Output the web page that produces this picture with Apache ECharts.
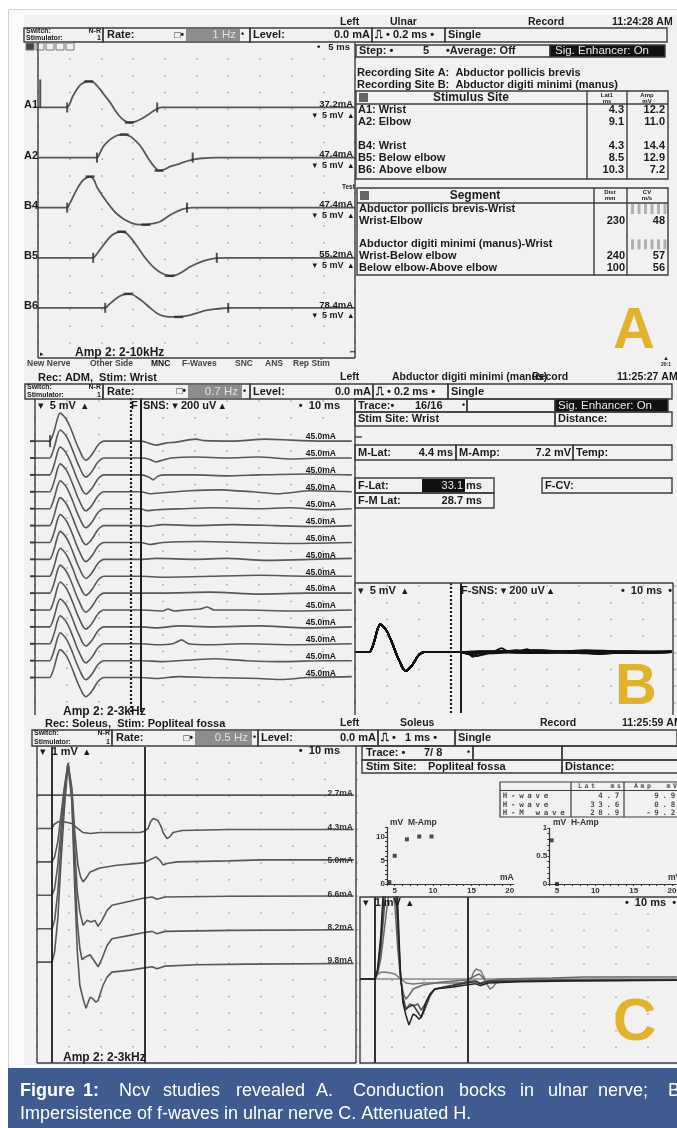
<!DOCTYPE html>
<html>
<head>
<meta charset="utf-8">
<title>NCV studies</title>
<script src="https://cdn.jsdelivr.net/npm/echarts@6.0.0/dist/echarts.min.js"></script>
<style>
html,body{margin:0;padding:0;background:#fff;}
#chart{width:677px;height:1128px;}
</style>
</head>
<body>
<div id="chart"></div>
<script>
// ===================== DATA =====================
// Panel A – ulnar motor conduction; points are [time ms, amplitude mV]
const aTraceLabels = ['A1', 'A2', 'B4', 'B5', 'B6'];
const aStimLabels = ['37.2mA', '47.4mA', '47.4mA', '55.2mA', '78.4mA'];
const aTraceA1 = [[0,0],[4.6,0],[5.0,1],[5.4,3],[6,5],[6.6,6.6],[7.3,7.5],[8,7.8],[8.7,7.6],[9.8,5.4],[10.6,3.4],[11.4,1.5],[12.1,-0.7],[12.9,-2.7],[13.6,-3.9],[14.4,-4.5],[15.2,-4.3],[16.1,-3.6],[17,-2.6],[18.1,-1.2],[18.8,-0.4],[19.6,0],[50,0]];
const aTraceA2 = [[0,0],[9.3,0],[9.8,1.5],[10.3,3.3],[11,4.8],[11.6,5.7],[12.6,6.7],[13.6,6.9],[14.6,6.3],[15.4,5],[16.1,3.6],[16.8,1.6],[17.4,-0.3],[18.2,-2.4],[19.1,-3.9],[20,-3.5],[20.8,-2.7],[22.4,-1.8],[23.4,-1.1],[24.4,-0.6],[26,-0.2],[28,0],[50,0]];
const aTraceB4 = [[0,0],[4.6,0],[5,1.2],[5.6,3.5],[6.2,5.7],[6.9,7.8],[7.5,8.8],[8.2,9.3],[8.8,8.4],[9.3,6.2],[10.3,3.2],[11.4,0.4],[12.3,-1.6],[13.5,-3.4],[14.8,-4.6],[16,-5.1],[17,-5.1],[18,-4.8],[19.2,-4.2],[20.2,-3],[21.2,-1.8],[22.6,-0.6],[23.5,-0.1],[24.5,0],[50,0]];
const aTraceB5 = [[0,0],[8.7,0],[9.3,1.2],[10,3],[10.8,5],[11.7,6.8],[12.5,7.6],[13.2,7.8],[14,7.3],[14.8,5.6],[15.8,3],[16.9,0],[18,-2.4],[19,-4],[20,-5],[20.8,-5.4],[21.7,-5.2],[22.6,-4.4],[24,-2.7],[25.3,-1.5],[26.7,-0.6],[28.2,-0.1],[29.5,0],[50,0]];
const aTraceB6 = [[0,0],[10.6,0],[11.2,1],[12,2.3],[12.8,3.4],[13.5,4],[14.2,4.2],[14.9,4],[15.6,3.2],[16.6,1.8],[17.7,0],[18.7,-1.5],[19.7,-2.4],[20.8,-2.7],[22.2,-2.7],[23.4,-2.4],[24.6,-1.8],[26.2,-0.9],[27.8,-0.4],[29.2,-0.1],[30.6,0],[50,0]];
const aOnsetMs = [4.6, 9.3, 4.6, 8.7, 10.6];
const aPeakMs = [8.0, 13.6, 8.2, 13.2, 14.2];
const aTroughMs = [14.4, 19.1, 17.0, 20.8, 22.2];
const aEndMs = [18.8, 24.4, 23.5, 28.2, 30.0];
// Panel A tables
const siteNames = ['A1: Wrist', 'A2: Elbow', '', 'B4: Wrist', 'B5: Below elbow', 'B6: Above elbow'];
const siteLat = ['4.3', '9.1', '', '4.3', '8.5', '10.3'];
const siteAmp = ['12.2', '11.0', '', '14.4', '12.9', '7.2'];
const segNames = ['Abductor pollicis brevis-Wrist', 'Wrist-Elbow', '', 'Abductor digiti minimi (manus)-Wrist', 'Wrist-Below elbow', 'Below elbow-Above elbow'];
const segDist = ['', '230', '', '', '240', '100'];
const segCV = ['', '48', '', '', '57', '56'];

// Panel B – F-wave study; M response in mV, late window in uV
const bCmapMv = [[0,0],[4.6,0],[5.4,0.7],[6.25,2.0],[7.0,3.4],[7.8,4.24],[8.8,3.9],[9.9,3.2],[11,2.1],[12,0.9],[13,-0.4],[14.1,-1.6],[15,-2.5],[15.9,-2.9],[16.8,-2.6],[17.7,-2.1],[18.5,-1.5],[19.3,-0.85],[20.3,-0.3],[21.5,0],[30,0]];
const bFwaveUv = [
  [[30,0],[33.1,0],[35.5,-12],[37.8,-24],[40.9,-12],[44,-6],[50.3,12],[53,3],[62,0],[72,12],[80,6],[90,0],[99,0]],
  [[30,0],[33.1,0],[35.5,-6],[37.8,-24],[40,-12],[42.5,0],[50,6],[60,0],[70,6],[80,-6],[90,0],[99,0]],
  [[30,0],[33.1,0],[35.5,-12],[36.9,-30],[38.5,-6],[41,0],[50,0],[60,-6],[70,0],[85,6],[99,0]],
  [[30,0],[33.1,0],[36,-12],[40,-6],[48,6],[58,12],[68,0],[76,-12],[86,6],[99,0]],
  [[30,0],[33.1,0],[35,-12],[38,-6],[46,0],[55,6],[70,0],[80,6],[90,-6],[99,0]],
  [[30,0],[33.1,0],[35,-6],[40,6],[50,0],[62,6],[75,0],[88,-6],[99,0]],
  [[30,0],[33.1,0],[36,-12],[40,0],[52,6],[66,0],[80,-6],[99,0]],
  [[30,0],[33.1,0],[38,6],[50,0],[60,6],[72,-6],[86,0],[99,6]],
  [[30,0],[33.1,0],[40,-6],[55,0],[70,6],[85,0],[99,0]],
  [[30,0],[33.1,0],[40,0],[55,6],[70,-6],[85,0],[99,0]],
  [[30,0],[33.1,0],[40,-6],[41.5,6],[43.5,-6],[47,0],[51.5,6],[53.8,18],[56,0],[65,0],[80,-6],[99,0]],
  [[30,0],[33.1,0],[38,-6],[45,6],[55,0],[70,6],[85,-6],[99,0]],
  [[30,0],[33.1,0],[38,-6],[43,0],[45.8,24],[48,0],[55,-6],[65,0],[80,-6],[99,0]],
  [[30,0],[33.1,0],[40,-6],[50,6],[56,12],[66,0],[78,-6],[90,0],[99,0]],
  [[30,0],[33.1,0],[38,-6],[45,6],[55,0],[70,-6],[77,-12],[85,0],[99,6]]
];
const bStimLabels = ['45.0mA','45.0mA','45.0mA','45.0mA','45.0mA','45.0mA','45.0mA','45.0mA','45.0mA','45.0mA','45.0mA','45.0mA','45.0mA','45.0mA','45.0mA'];
const bOnsetMs = 4.7;
const bWindowMs = 30;
const bFLatMs = 33.1;

// Panel C – H-reflex, soleus (time ms, amplitude mV)
const cStimLabels = ['2.7mA', '4.3mA', '5.0mA', '6.6mA', '8.2mA', '9.8mA'];
const cTrace27 = [[0,0],[30,0],[60,0],[99,0]];
const cTrace43 = [[0,0],[4.7,0],[5.3,0.12],[6.5,0.2],[7.8,0.21],[9.5,0.18],[10.9,0.15],[12.5,0.02],[14.4,-0.12],[16.6,-0.15],[19.7,-0.12],[32.2,-0.12],[33.6,-0.08],[34.7,0],[35.5,0.2],[36.3,0.3],[37.8,0.24],[38.8,0.05],[39.4,-0.12],[40.6,-0.3],[41.5,-0.25],[42.5,-0.12],[45.3,-0.06],[60,-0.03],[99,-0.03]];
const cTrace50 = [[0,0],[4.7,0],[5.5,0.15],[6.5,0.6],[7.5,1.4],[8.5,2.2],[9.7,2.96],[10.3,2.96],[10.9,2.2],[11.8,0.9],[12.8,-0.1],[13.6,-0.45],[14.4,-0.6],[15.6,-0.45],[16.6,-0.3],[19.7,-0.18],[25,-0.1],[33.1,-0.03],[35,0.05],[37.2,0.15],[38.4,0.05],[39.4,-0.09],[40.6,-0.05],[43.7,0],[60,0.03],[70,0.06],[99,0.06]];
const cTrace66 = [[0,0],[4.7,0],[5.5,0.2],[6.5,0.9],[7.5,2],[8.5,3.1],[9.7,3.96],[10.3,3.96],[10.9,3.1],[11.8,1.4],[12.6,0.1],[13.4,-0.5],[14.4,-0.9],[15.6,-0.75],[16.9,-0.8],[18.1,-0.75],[19.1,-0.93],[20.3,-0.75],[21.9,-0.45],[23.4,-0.3],[29,-0.18],[33.1,-0.09],[36,-0.05],[37.5,-0.12],[40,-0.05],[60,-0.03],[99,-0.02]];
const cTrace82 = [[0,0],[4.7,0],[5.5,0.25],[6.5,1.1],[7.5,2.5],[8.5,3.8],[9.7,4.96],[10.3,4.96],[10.9,3.9],[11.8,1.8],[12.6,0.2],[13.4,-0.6],[14.1,-0.93],[15,-0.85],[16.6,-0.78],[17.8,-0.95],[19.1,-1.14],[20.3,-0.9],[21.9,-0.5],[23.4,-0.3],[29,-0.2],[33.1,-0.12],[36,-0.08],[37.5,-0.15],[40,-0.08],[60,-0.05],[99,-0.03]];
const cTrace98 = [[0,0],[4.7,0],[5.5,0.3],[6.5,1.3],[7.5,3],[8.5,4.5],[9.7,5.96],[10.3,5.96],[10.9,4.8],[11.8,2.2],[12.6,0.3],[13.4,-0.7],[14.4,-1.1],[15.3,-1.38],[16.6,-1.05],[17.5,-1.1],[18.4,-1.2],[19.1,-1.15],[20.6,-0.7],[21.9,-0.45],[23.4,-0.3],[29.1,-0.24],[33.1,-0.18],[36,-0.14],[37.5,-0.2],[40,-0.12],[50,-0.08],[66,-0.06],[99,-0.04]];
const cMLatMs = 4.7;
const cHLatMs = 33.6;
const cTableNames = ['H-wave', 'H-wave', 'H-M wave'];
const cTableLat = ['4.7', '33.6', '28.9'];
const cTableAmp = ['9.9', '0.8', '-9.2'];
const mAmpPoints = [[4.3,0.4],[5.0,6.0],[6.6,9.5],[8.2,10.1],[9.8,10.1]];
const hAmpPoints = [[4.3,0.78],[5.0,0]];
const ampXLabels = [5, 10, 15, 20];
const mAmpYLabels = [0, 5, 10];
const hAmpYLabels = [0, 0.5, 1];

// Caption
const captionWords1 = ['Figure', '1:', 'Ncv', 'studies', 'revealed', 'A.', 'Conduction', 'bocks', 'in', 'ulnar', 'nerve;', 'B'];
const captionLine2 = 'Impersistence of f-waves in ulnar nerve C. Attenuated H.';

// ===================== BUILD =====================
const FF = '"Liberation Sans", Arial, Helvetica, "DejaVu Sans", sans-serif';
const MONO = '"DejaVu Sans Mono", "Liberation Mono", monospace';
const INK = '#1b1b1b';
const LINE = '#3c3c3c';
const G = [];
function T(x, y, text, o) {
  o = o || {};
  G.push({type: 'text', x: x, y: y, z: o.z || 30, silent: true,
    style: {text: String(text), fill: o.c || INK, fontSize: o.s || 11, fontWeight: o.w || 'bold',
      fontFamily: o.f || FF, align: o.a || 'left', verticalAlign: 'middle',
      textAlign: o.a || 'left', textVerticalAlign: 'middle'}});
}
function box(x, y, w, h, o) {
  o = o || {};
  G.push({type: 'rect', z: o.z || 25, silent: true, shape: {x: x, y: y, width: w, height: h},
    style: {fill: o.fill || 'none', stroke: o.stroke || LINE, lineWidth: o.lw == null ? 1.4 : o.lw}});
}
function fillRect(x, y, w, h, color, z) {
  G.push({type: 'rect', z: z || 26, silent: true, shape: {x: x, y: y, width: w, height: h}, style: {fill: color}});
}
function Ln(x1, y1, x2, y2, o) {
  o = o || {};
  G.push({type: 'line', z: o.z || 25, silent: true, shape: {x1: x1, y1: y1, x2: x2, y2: y2},
    style: {stroke: o.c || LINE, lineWidth: o.lw || 1.4, lineDash: o.dash || null}});
}
function spaced(x, y, str, pitch, o) {
  for (let k = 0; k < str.length; k++) {
    if (str[k] !== ' ') T(x + k * pitch, y, str[k], Object.assign({a: 'center', f: MONO, s: 7.5, c: '#4d4d4d'}, o || {}));
  }
}
function spacedRight(xr, y, str, pitch, o) { spaced(xr - (str.length - 1) * pitch, y, str, pitch, o); }
function valueAt(tr, t) {
  for (let k = 1; k < tr.length; k++) {
    if (tr[k][0] >= t) { const p0 = tr[k - 1], p1 = tr[k]; return p0[1] + (p1[1] - p0[1]) * (t - p0[0]) / (p1[0] - p0[0]); }
  }
  return 0;
}
const shift = (arr, off) => arr.map(p => [p[0], p[1] + off]);

// backgrounds
G.push({type: 'rect', z: -20, silent: true, shape: {x: 8.5, y: 9.5, width: 690, height: 1060}, style: {fill: '#fbfbfb', stroke: '#d2d2d2', lineWidth: 1}});
G.push({type: 'rect', z: -19, silent: true, shape: {x: 24, y: 15, width: 653, height: 1050}, style: {fill: '#f1f1f1'}});

const grids = [], xAxes = [], yAxes = [], series = [];
function addTraceGrid(L, interval, dashOffset) {
  const gi = grids.length;
  grids.push({left: L.left, top: L.top, width: L.w, height: L.h, containLabel: false, outerBoundsMode: 'none', show: false});
  xAxes.push({gridIndex: gi, type: 'value', min: 0, max: L.xMax, interval: interval,
    axisLine: {show: false}, axisTick: {show: false}, axisLabel: {show: false},
    splitLine: {show: true, lineStyle: {color: '#a3a3a3', width: 1.5, type: [1.5, 15.2], dashOffset: dashOffset}}});
  yAxes.push({gridIndex: gi, type: 'value', min: 0, max: L.yMax, show: false, splitLine: {show: false}});
  return gi;
}
function lineSeries(gi, data, color, width, smooth, extra) {
  return Object.assign({type: 'line', xAxisIndex: gi, yAxisIndex: gi, data: data, showSymbol: false, symbol: 'none',
    silent: true, animation: false, smooth: smooth, clip: true, lineStyle: {color: color, width: width}, z: 3}, extra || {});
}
function vMarks(vals, styles) {
  return {silent: true, symbol: ['none', 'none'], label: {show: false}, animation: false,
    lineStyle: {color: '#1e1e1e', width: 1.8, type: 'solid'},
    data: vals.map((v, i) => ({xAxis: v, lineStyle: styles[i]}))};
}

// ---------- Panel A ----------
const GA = {left: 38, top: 44, w: 317, h: 314, xMax: 50, yMax: 94};
const gA = addTraceGrid(GA, 5, 2.4);
const aPx = GA.h / GA.yMax;
const aTraces = [aTraceA1, aTraceA2, aTraceB4, aTraceB5, aTraceB6];
const aBase = aTraces.map((_, i) => 75 - 15 * i);
const aBasePx = aBase.map(b => GA.top + GA.h - b * aPx);
aTraces.forEach((tr, i) => series.push(lineSeries(gA, shift(tr, aBase[i]), '#575757', 1.8, 0.25)));
const aMarkData = [];
aTraces.forEach((tr, i) => {
  aMarkData.push({value: [aOnsetMs[i], aBase[i]], symbolSize: [2, 10]});
  aMarkData.push({value: [aEndMs[i], aBase[i]], symbolSize: [2, 10]});
  aMarkData.push({value: [aPeakMs[i], aBase[i] + valueAt(tr, aPeakMs[i])], symbolSize: [9, 2.5]});
  aMarkData.push({value: [aTroughMs[i], aBase[i] + valueAt(tr, aTroughMs[i])], symbolSize: [9, 2.5]});
});
aMarkData.push({value: [0.35, aBase[0] + 4.2], symbolSize: [2, 28]});
series.push({type: 'scatter', xAxisIndex: gA, yAxisIndex: gA, data: aMarkData, symbol: 'rect', silent: true, animation: false, itemStyle: {color: '#2a2a2a'}, z: 4});

// ---------- Panel B ----------
const GBL = {left: 35, top: 398, w: 320, h: 314, xMax: 100, yMax: 47.6};
const GBR = {left: 355, top: 583, w: 320, h: 130, xMax: 100, yMax: 19.7};
const gBL = addTraceGrid(GBL, 10, 14.4);
const gBR = addTraceGrid(GBR, 10, 14.4);
const bPx = GBL.h / GBL.yMax;
const bBase = bFwaveUv.map((_, i) => 41.06 - 2.56 * i);
const bBasePx = bBase.map(b => GBL.top + GBL.h - b * bPx);
const bTrace = i => bCmapMv.concat(bFwaveUv[i].map(p => [p[0], p[1] * 0.025]));  // 200 uV/div vs 5 mV/div
const bMarkStyles = [{type: [2, 2], width: 2.2}, {type: 'solid', width: 2}];
bFwaveUv.forEach((_, i) => {
  series.push(lineSeries(gBL, shift(bTrace(i), bBase[i]), '#575757', 1.6, 0.2,
    i === 0 ? {markLine: vMarks([bWindowMs, bFLatMs], bMarkStyles)} : null));
});
series.push({type: 'scatter', xAxisIndex: gBL, yAxisIndex: gBL, data: [[bOnsetMs, bBase[0]]], symbol: 'rect', symbolSize: [2, 12], silent: true, itemStyle: {color: '#2a2a2a'}, z: 4});
bFwaveUv.forEach((_, i) => {
  series.push(lineSeries(gBR, shift(bTrace(i), 9.24), '#111', 1.8, 0.2,
    i === 0 ? {markLine: vMarks([bWindowMs, bFLatMs], bMarkStyles)} : null));
});

// ---------- Panel C ----------
const GCL = {left: 37, top: 747, w: 320, h: 316, xMax: 100, yMax: 9.46};
const GCR = {left: 360, top: 897, w: 320, h: 166, xMax: 100, yMax: 4.97};
const gCL = addTraceGrid(GCL, 10, 1.7);
const gCR = addTraceGrid(GCR, 10, 0.7);
const cPx = GCL.h / GCL.yMax;
const cTraces = [cTrace27, cTrace43, cTrace50, cTrace66, cTrace82, cTrace98];
const cBase = cTraces.map((_, i) => 8.02 - 1.0 * i);
const cBasePx = cBase.map(b => GCL.top + GCL.h - b * cPx);
const cMarkStyles = [{type: 'solid', width: 1.8}, {type: 'solid', width: 1.8}];
cTraces.forEach((tr, i) => {
  series.push(lineSeries(gCL, shift(tr, cBase[i]), '#575757', 1.6, false,
    i === 0 ? {markLine: vMarks([cMLatMs, cHLatMs], cMarkStyles)} : null));
});
const cRColors = ['#8a8a8a', '#7a7a7a', '#6a6a6a', '#555', '#3a3a3a', '#222'];
cTraces.forEach((tr, i) => {
  series.push(lineSeries(gCR, shift(tr, 2.515), cRColors[i], 1.5, false,
    i === 0 ? {markLine: vMarks([cMLatMs, cHLatMs], cMarkStyles)} : null));
});

// amplitude plots
function addAmpGrid(left, top, w, h, yMax, yLabels, yTicks, points) {
  const gi = grids.length;
  grids.push({left: left, top: top, width: w, height: h, containLabel: false, outerBoundsMode: 'none', show: false});
  const xt = []; for (let v = 4; v <= 20; v++) xt.push(v);
  xAxes.push({gridIndex: gi, type: 'value', min: 4, max: 20.5,
    axisLine: {show: true, lineStyle: {color: '#333', width: 1.2}},
    axisTick: {show: true, customValues: xt, length: 2, lineStyle: {color: '#333', width: 1}},
    axisLabel: {show: true, customValues: ampXLabels, fontSize: 8, fontWeight: 'bold', color: '#333', margin: 3, fontFamily: FF},
    splitLine: {show: false}});
  yAxes.push({gridIndex: gi, type: 'value', min: 0, max: yMax,
    axisLine: {show: true, lineStyle: {color: '#333', width: 1.2}},
    axisTick: {show: true, customValues: yTicks, length: 2, lineStyle: {color: '#333', width: 1}},
    axisLabel: {show: true, customValues: yLabels, fontSize: 8, fontWeight: 'bold', color: '#333', margin: 2, fontFamily: FF},
    splitLine: {show: false}});
  series.push({type: 'scatter', xAxisIndex: gi, yAxisIndex: gi, data: points, symbol: 'rect', symbolSize: 4,
    silent: true, animation: false, itemStyle: {color: '#222'}, z: 4});
}
const mTicks = []; for (let v = 0; v <= 12; v++) mTicks.push(v);
const hTicks = []; for (let v = 0; v <= 10; v++) hTicks.push(v / 10);
addAmpGrid(387, 827.6, 126.6, 56.4, 12, mAmpYLabels, mTicks, mAmpPoints);
addAmpGrid(549.3, 828, 126.6, 56, 1, hAmpYLabels, hTicks, hAmpPoints);

// ---------- header rows ----------
function headerRow(h) {
  const y = h.y, hh = h.h, cy = y + hh / 2;
  box(h.sw0, y, h.sw1 - h.sw0, hh);
  box(h.sw1, y, h.lev0 - h.sw1, hh);
  box(h.lev0, y, h.lev1 - h.lev0, hh);
  box(h.lev1, y, h.dur1 - h.lev1, hh);
  box(h.dur1, y, h.end - h.dur1, hh);
  fillRect(h.hl0, y + 1, h.hl1 - h.hl0, hh - 2, '#8d8d8d');
  T(h.sw0 + 2, y + 3.5, 'Switch:', {s: 7});
  T(h.sw0 + 2, y + hh - 3.5, 'Stimulator:', {s: 7});
  T(h.sw1 - 2, y + 3.5, 'N-R', {s: 7, a: 'right'});
  T(h.sw1 - 2, y + hh - 3.5, '1', {s: 7, a: 'right'});
  T(h.sw1 + 4, cy, 'Rate:');
  T(h.hl0 - 2, cy, '□•', {a: 'right', s: 10});
  T(h.hl1 - 4, cy, h.rate, {a: 'right', w: 'normal', c: '#e2e2e2', s: 11.5});
  T(h.hl1 + 1, cy, '•', {s: 9});
  T(h.lev0 + 3, cy, 'Level:');
  T(h.lev1 - 2, cy, '0.0 mA', {a: 'right'});
  T(h.lev1 + 3, cy, h.dur);
  T(h.dur1 + 3, cy, 'Single');
}
function titleRow(y, site, siteX, recX, time, timeX) {
  T(340, y, 'Left', {s: 10.5});
  T(siteX, y, site, {s: 10.5});
  T(recX, y, 'Record', {s: 10.5});
  T(timeX, y, time, {s: 10.5});
}

// ---------- Panel A decorations ----------
titleRow(22, 'Ulnar', 390, 528, '11:24:28 AM', 612);
headerRow({y: 28, h: 14, sw0: 24, sw1: 103, hl0: 186, hl1: 240, rate: '1 Hz', lev0: 250, lev1: 372, dur: '⎍ • 0.2 ms •', dur1: 445, end: 667});
for (let k = 0; k < 5; k++) box(26 + k * 10, 43, 8, 7, {lw: 1, fill: k === 0 ? '#444' : 'none', stroke: '#777'});
Ln(38, 43, 38, 358); Ln(38, 358, 355, 358); Ln(355, 43, 355, 358);
T(350, 47, '•   5 ms', {a: 'right', s: 9.5});
aTraceLabels.forEach((lab, i) => {
  T(24, aBasePx[i] - 2, lab, {s: 11});
  T(353, aBasePx[i] - 3, aStimLabels[i], {a: 'right', s: 9.5});
  T(353, aBasePx[i] + 8, '▾  5 mV  ▴', {a: 'right', s: 9});
});
T(342, 187, 'Test', {s: 6.5});
T(40, 354, '▸', {s: 7});
T(75, 353, 'Amp 2: 2-10kHz', {s: 12});
[['New Nerve', 27], ['Other Side', 90], ['MNC', 151], ['F-Waves', 182], ['SNC', 235], ['ANS', 265], ['Rep Stim', 293]].forEach(m =>
  T(m[1], 364, m[0], {s: 8.5, c: m[0] === 'MNC' ? '#111' : '#444'}));
T(350, 352, 'ꟷ', {s: 6});
box(356, 45, 194, 12);
T(359, 51, 'Step: •', {});
T(423, 51, '5', {});
T(446, 51, '•Average: Off', {});
box(550, 45, 115, 12, {fill: '#111'});
T(555, 51, 'Sig. Enhancer: On', {w: 'normal', c: '#eaeaea', s: 11.5});
T(357, 73, 'Recording Site A:  Abductor pollicis brevis', {s: 11});
T(357, 85, 'Recording Site B:  Abductor digiti minimi (manus)', {s: 11});
// stimulus table
box(356, 91, 312, 88); Ln(356, 104, 668, 104); Ln(587, 91, 587, 179); Ln(627, 91, 627, 179);
fillRect(359, 93, 9, 9, '#666');
T(471, 98, 'Stimulus Site', {a: 'center', s: 12});
T(607, 95, 'Lat1', {a: 'center', s: 6}); T(607, 101, 'ms', {a: 'center', s: 6});
T(647, 95, 'Amp', {a: 'center', s: 6}); T(647, 101, 'mV', {a: 'center', s: 6});
siteNames.forEach((n, i) => {
  const y = 110 + 12 * i;
  if (n) T(358, y, n, {s: 11});
  if (siteLat[i]) T(624, y, siteLat[i], {a: 'right', s: 11});
  if (siteAmp[i]) T(665, y, siteAmp[i], {a: 'right', s: 11});
});
// segment table
box(357, 188, 311, 87); Ln(357, 203, 668, 203); Ln(594, 188, 594, 275); Ln(627, 188, 627, 275);
fillRect(360, 191, 9, 9, '#666');
T(475, 196, 'Segment', {a: 'center', s: 12});
T(610, 192, 'Dist', {a: 'center', s: 6}); T(610, 198, 'mm', {a: 'center', s: 6});
T(647, 192, 'CV', {a: 'center', s: 6}); T(647, 198, 'm/s', {a: 'center', s: 6});
segNames.forEach((n, i) => {
  const y = 209 + 11.8 * i;
  if (n) T(359, y, n, {s: 11});
  if (segDist[i]) T(625, y, segDist[i], {a: 'right', s: 11});
  if (segCV[i]) T(665, y, segCV[i], {a: 'right', s: 11});
  if (i === 0 || i === 3) for (let k = 0; k < 6; k++) fillRect(631 + k * 6.5, y - 5, 3, 10, '#b0b0b0');
});
T(613, 332, 'A', {s: 58, c: '#E2B22C'});
T(666, 358, '▲', {s: 6, a: 'center'}); T(666, 365, '20:1', {s: 5, a: 'center'});

// ---------- Panel B decorations ----------
T(38, 378, 'Rec: ADM,  Stim: Wrist', {s: 11});
titleRow(377, 'Abductor digiti minimi (manus)', 392, 532, '11:25:27 AM', 617);
headerRow({y: 384, h: 15, sw0: 25, sw1: 103, hl0: 188, hl1: 242, rate: '0.7 Hz', lev0: 250, lev1: 373, dur: '⎍ • 0.2 ms •', dur1: 448, end: 672});
Ln(35, 399, 35, 715); Ln(355, 399, 355, 715);
Ln(355, 583, 673, 583); Ln(673, 583, 673, 715);
T(38, 406, '▾  5 mV  ▴', {s: 11});
T(131, 406, 'F', {s: 11});
T(143, 406, 'SNS: ▾ 200 uV ▴', {s: 11});
T(340, 406, '•  10 ms', {a: 'right', s: 11});
bStimLabels.forEach((lab, i) => {
  T(336, bBasePx[i] - 4, lab, {a: 'right', s: 8.5});
  Ln(30, bBasePx[i], 35, bBasePx[i], {lw: 2});
});
T(63, 712, 'Amp 2: 2-3kHz', {s: 12});
box(355, 399, 112, 13); box(467, 399, 88, 13); box(555, 399, 113, 13, {fill: '#111'});
T(358, 405.5, 'Trace:•', {}); T(415, 405.5, '16/16', {}); T(462, 405.5, '•', {s: 9});
T(558, 405.5, 'Sig. Enhancer: On', {w: 'normal', c: '#eaeaea', s: 11.5});
box(355, 412, 200, 14); box(555, 412, 117, 14);
T(358, 419, 'Stim Site: Wrist', {}); T(558, 419, 'Distance:', {});
Ln(355, 437, 362, 437);
box(355, 445, 101, 15); box(456, 445, 117, 15); box(573, 445, 99, 15);
T(358, 452.5, 'M-Lat:', {}); T(453, 452.5, '4.4 ms', {a: 'right'});
T(459, 452.5, 'M-Amp:', {}); T(571, 452.5, '7.2 mV', {a: 'right'});
T(576, 452.5, 'Temp:', {});
box(355, 478, 139, 15); fillRect(422, 479, 43, 13, '#111');
T(358, 485.5, 'F-Lat:', {}); T(463, 485.5, '33.1', {a: 'right', w: 'normal', c: '#eaeaea'}); T(466, 485.5, 'ms', {});
box(355, 493, 139, 15);
T(358, 500.5, 'F-M Lat:', {}); T(463, 500.5, '28.7', {a: 'right'}); T(466, 500.5, 'ms', {});
box(542, 478, 130, 15); T(545, 485.5, 'F-CV:', {});
T(358, 591, '▾  5 mV  ▴', {s: 11});
T(461, 591, 'F-SNS: ▾ 200 uV ▴', {s: 11});
T(672, 591, '•  10 ms  •', {a: 'right', s: 11});
T(615, 688, 'B', {s: 58, c: '#E2B22C'});

// ---------- Panel C decorations ----------
T(45, 724, 'Rec: Soleus,  Stim: Popliteal fossa', {s: 11});
titleRow(723, 'Soleus', 400, 540, '11:25:59 AM', 622);
headerRow({y: 730, h: 16, sw0: 32, sw1: 112, hl0: 195, hl1: 252, rate: '0.5 Hz', lev0: 258, lev1: 378, dur: '⎍ •   1 ms •', dur1: 455, end: 677});
Ln(37, 746, 37, 1063); Ln(356, 746, 356, 1063); Ln(37, 1063, 356, 1063);
T(40, 752, '▾  1 mV  ▴', {s: 11});
T(340, 751, '•  10 ms', {a: 'right', s: 11});
cStimLabels.forEach((lab, i) => T(353, cBasePx[i] - 1, lab, {a: 'right', s: 8.5, c: '#333'}));
T(63, 1058, 'Amp 2: 2-3kHz', {s: 12});
box(362, 746, 111, 14); box(473, 746, 89, 14); box(562, 746, 117, 14);
T(366, 753, 'Trace: •', {}); T(424, 753, '7/ 8', {}); T(467, 753, '•', {s: 9});
box(362, 760, 200, 13); box(562, 760, 117, 13);
T(366, 766.5, 'Stim Site:', {}); T(428, 766.5, 'Popliteal fossa', {}); T(565, 766.5, 'Distance:', {});
box(500, 782, 180, 35, {lw: 1.2}); Ln(500, 790.5, 677, 790.5, {lw: 1}); Ln(571, 782, 571, 817, {lw: 1.2}); Ln(624, 782, 624, 817, {lw: 1.2});
spacedRight(619, 786, 'Lat  ms', 6.5, {s: 6.5});
spacedRight(675, 786, 'Amp  mV', 6.5, {s: 6.5});
cTableNames.forEach((n, i) => {
  const y = 796 + 8.7 * i;
  spaced(505, y, n, 8.2);
  spacedRight(617, y, cTableLat[i], 8.2);
  spacedRight(673, y, cTableAmp[i], 8.2);
});
T(390, 823, 'mV  M-Amp', {s: 8.5, c: '#333'});
T(500, 878, 'mA', {s: 8.5, c: '#333'});
T(553, 823, 'mV  H-Amp', {s: 8.5, c: '#333'});
T(668, 878, 'mV', {s: 8.5, c: '#333'});
box(360, 897, 320, 166);
T(363, 903, '▾  1 mV  ▴', {s: 11});
T(676, 903, '•  10 ms  •', {a: 'right', s: 11});
T(613, 1023, 'C', {s: 60, c: '#E2B22C'});

// ---------- Caption ----------
G.push({type: 'rect', z: 20, silent: true, shape: {x: 8, y: 1068, width: 669, height: 60}, style: {fill: '#3f5b8f'}});
const capX = [20, 83, 119, 163, 236, 316, 353, 459, 520, 548, 598, 668];
captionWords1.forEach((w, i) => T(capX[i], 1091, w, {s: 18, c: '#ffffff', w: i < 2 ? 'bold' : 'normal'}));
T(20, 1114, captionLine2, {s: 18, c: '#ffffff', w: 'normal'});

const chart = echarts.init(document.getElementById('chart'), null, {renderer: 'canvas'});
chart.setOption({
  animation: false,
  backgroundColor: '#ffffff',
  grid: grids,
  xAxis: xAxes,
  yAxis: yAxes,
  series: series,
  graphic: G
});
</script>
</body>
</html>
